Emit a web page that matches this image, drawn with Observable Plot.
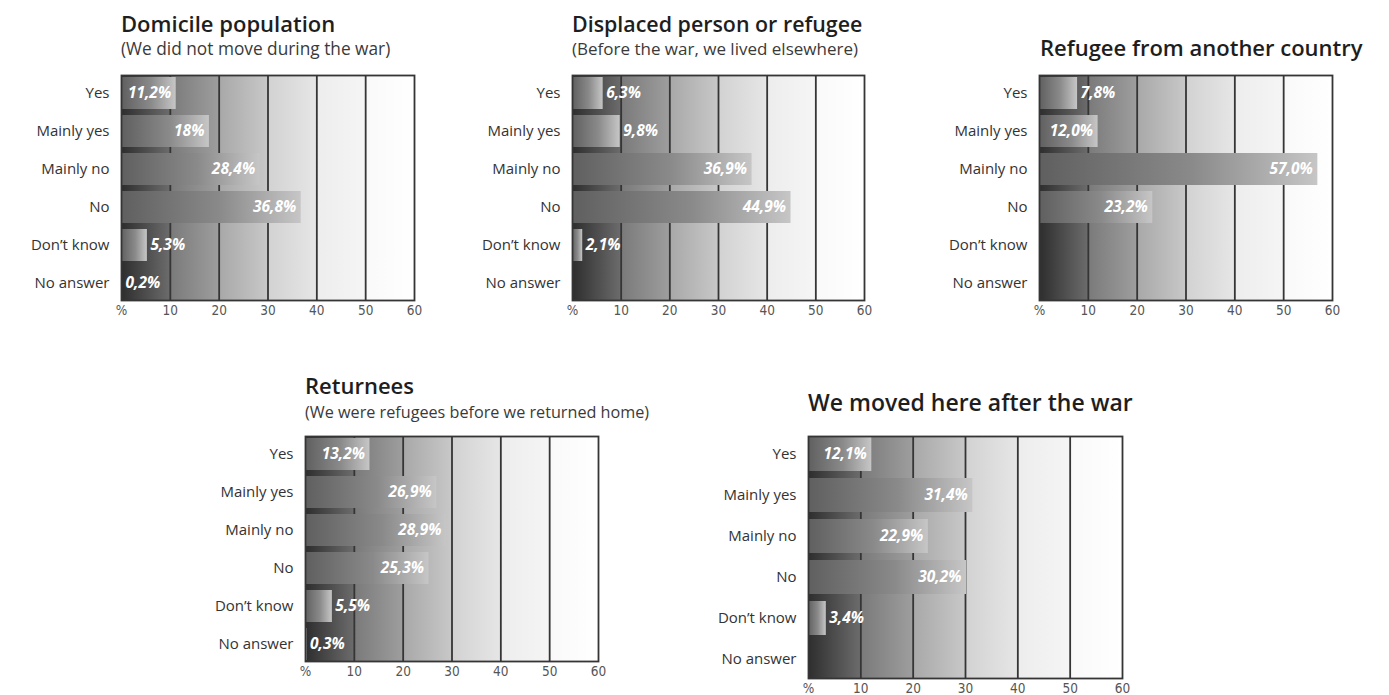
<!DOCTYPE html>
<html>
<head>
<meta charset="utf-8">
<script src="https://cdn.jsdelivr.net/npm/d3@7"></script>
<script src="https://cdn.jsdelivr.net/npm/@observablehq/plot@0.6"></script>
<style>
  body { margin: 0; background: #fff; }
  #chart { position: relative; width: 1389px; height: 695px; overflow: hidden; font-family: "Open Sans", sans-serif; }
  .panel { position: absolute; }
  .title, .subtitle { position: absolute; margin: 0; line-height: 1; white-space: nowrap; }
  .title { font-weight: 600; color: #1e1e1e; }
  .subtitle { font-weight: 400; color: #3a3a3a; }
</style>
</head>
<body>
<div id="chart"></div>
<script>
// Answer categories, top to bottom
const categories = ["Yes", "Mainly yes", "Mainly no", "No", "Don’t know", "No answer"];
const xTicks = [0, 10, 20, 30, 40, 50, 60];

// Shares (%) per group; null = no answer recorded
const domicile = [11.2, 18, 28.4, 36.8, 5.3, 0.2];
const domicileLabels = ["11,2%", "18%", "28,4%", "36,8%", "5,3%", "0,2%"];

const displaced = [6.3, 9.8, 36.9, 44.9, 2.1, null];
const displacedLabels = ["6,3%", "9,8%", "36,9%", "44,9%", "2,1%", null];

const foreignRefugee = [7.8, 12.0, 57.0, 23.2, null, null];
const foreignRefugeeLabels = ["7,8%", "12,0%", "57,0%", "23,2%", null, null];

const returnees = [13.2, 26.9, 28.9, 25.3, 5.5, 0.3];
const returneesLabels = ["13,2%", "26,9%", "28,9%", "25,3%", "5,5%", "0,3%"];

const movedAfter = [12.1, 31.4, 22.9, 30.2, 3.4, null];
const movedAfterLabels = ["12,1%", "31,4%", "22,9%", "30,2%", "3,4%", null];

// Background shading: one gradient per 10-point band
const bandStops = [
  ["#2e2e2e", "#6c6c6c"],
  ["#7a7a7a", "#9e9e9e"],
  ["#a8a8a8", "#c8c8c8"],
  ["#d2d2d2", "#e6e6e6"],
  ["#ededed", "#f5f5f5"],
  ["#f9f9f9", "#ffffff"]
];

const chart = document.getElementById("chart");

function addText(cls, text, x, baseline, size) {
  const el = document.createElement("div");
  el.className = cls;
  el.textContent = text;
  el.style.left = x + "px";
  el.style.fontSize = size + "px";
  el.style.top = (baseline - 0.888 * size) + "px";
  chart.appendChild(el);
}

function panel(id, values, labels, box) {
  const mL = 140, mR = 24, mT = 2, mB = 30;
  const rows = categories
    .map((cat, i) => ({cat, v: values[i], label: labels[i]}))
    .filter(d => d.v != null);
  const bg = `bg-${id}`, bar = `bar-${id}`;
  const svg = Plot.plot({
    width: box.w + mL + mR,
    height: box.h + mT + mB,
    marginLeft: mL, marginRight: mR, marginTop: mT, marginBottom: mB,
    style: {fontFamily: "Open Sans", background: "transparent", overflow: "visible"},
    x: {domain: [0, 60]},
    y: {domain: categories, paddingInner: 0.17, paddingOuter: 0},
    marks: [
      Plot.frame({fill: `url(#${bg})`, stroke: null}),
      Plot.ruleX([10, 20, 30, 40, 50], {stroke: "#353535", strokeWidth: 1.8}),
      Plot.barX(rows, {x: "v", y: "cat", fill: `url(#${bar})`}),
      Plot.text(rows.filter(d => d.v >= 10), {
        x: "v", y: "cat", text: "label", textAnchor: "end", dx: -5,
        fill: "white", fontStyle: "italic", fontWeight: 700, fontSize: 15.5
      }),
      Plot.text(rows.filter(d => d.v < 10), {
        x: "v", y: "cat", text: "label", textAnchor: "start", dx: 3,
        fill: "white", fontStyle: "italic", fontWeight: 700, fontSize: 15.5
      }),
      Plot.frame({stroke: "#353535", strokeWidth: 1.8}),
      Plot.axisY({tickSize: 0, tickPadding: 12, fontSize: 15, fill: "#333", label: null}),
      Plot.axisX({
        ticks: xTicks, tickFormat: d => d === 0 ? "%" : d, tickSize: 0, tickPadding: 5,
        fontSize: 13.5, fontFamily: "'DejaVu Sans Condensed', 'DejaVu Sans', sans-serif",
        fontStretch: "condensed", fill: "#555", label: null
      })
    ]
  });

  const defs = d3.select(svg).insert("defs", ":first-child");
  const g = defs.append("linearGradient").attr("id", bg).attr("x1", 0).attr("x2", 1).attr("y1", 0).attr("y2", 0);
  bandStops.forEach(([a, b], i) => {
    g.append("stop").attr("offset", i / 6 + 0.0005).attr("stop-color", a);
    g.append("stop").attr("offset", (i + 1) / 6 - 0.0005).attr("stop-color", b);
  });
  const gb = defs.append("linearGradient").attr("id", bar).attr("x1", 0).attr("x2", 1).attr("y1", 0).attr("y2", 0);
  gb.append("stop").attr("offset", 0).attr("stop-color", "#5f5f5f");
  gb.append("stop").attr("offset", 0.55).attr("stop-color", "#8a8a8a");
  gb.append("stop").attr("offset", 1).attr("stop-color", "#c6c6c6");

  svg.classList.add("panel");
  svg.style.left = (box.x - mL) + "px";
  svg.style.top = (box.y - mT) + "px";
  chart.appendChild(svg);
}

panel("p1", domicile, domicileLabels, {x: 121, y: 75, w: 293, h: 225});
addText("title", "Domicile population", 121, 32, 22);
addText("subtitle", "(We did not move during the war)", 121, 55, 17.3);

panel("p2", displaced, displacedLabels, {x: 572, y: 75, w: 292, h: 225});
addText("title", "Displaced person or refugee", 572, 32, 21.4);
addText("subtitle", "(Before the war, we lived elsewhere)", 572, 55, 17);

panel("p3", foreignRefugee, foreignRefugeeLabels, {x: 1039, y: 75, w: 293, h: 225});
addText("title", "Refugee from another country", 1040, 56, 22);

panel("p4", returnees, returneesLabels, {x: 305, y: 436, w: 293, h: 225});
addText("title", "Returnees", 305, 394, 22);
addText("subtitle", "(We were refugees before we returned home)", 305, 418, 16.2);

panel("p5", movedAfter, movedAfterLabels, {x: 808, y: 436, w: 314, h: 242});
addText("title", "We moved here after the war", 808, 411, 23);
</script>
</body>
</html>
